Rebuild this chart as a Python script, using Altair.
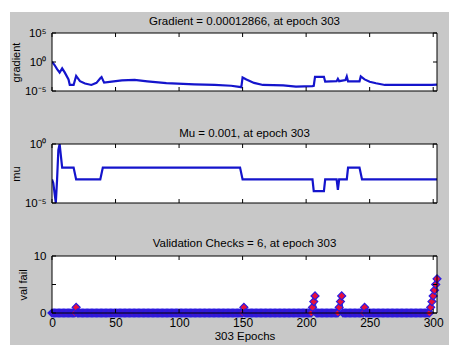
import altair as alt
import pandas as pd

# ---------------- data ----------------
grad_epochs = [0, 2, 4, 6, 8, 10, 13, 14, 17, 19, 22, 26, 31, 35, 38, 39, 41, 47, 55, 65,
               75, 90, 112, 128, 141, 149, 150, 153, 159, 166, 182, 192, 205, 206, 207,
               214, 215, 224, 225, 226, 231, 232, 233, 242, 243, 246, 250, 255, 262, 299, 303]
grad_values = [1.1, 0.3, 0.06, 0.015, 0.08, 0.016, 1e-3, 1.1e-4, 1.1e-4, 4e-3, 5e-4, 2e-4,
               1.1e-4, 2.5e-4, 1.6e-3, 2.5e-3, 2.8e-4, 4e-4, 7e-4, 8e-4, 4.5e-4, 2.2e-4,
               1.4e-4, 1.1e-4, 8e-5, 4.5e-5, 2.2e-3, 1e-3, 2.5e-4, 1.1e-4, 9e-5, 5.6e-5,
               7e-5, 8e-5, 2.8e-3, 2.8e-3, 4e-4, 5e-4, 1.3e-3, 5e-4, 8e-4, 3.2e-3, 4.5e-4,
               4.5e-4, 3.2e-3, 1e-3, 4e-4, 2.2e-4, 1.1e-4, 1.1e-4, 1.2866e-4]

mu_epochs = [0, 1, 3, 4, 5, 6, 7, 8, 17, 19, 38, 40, 148, 150, 205, 206, 214, 215, 224,
             225, 226, 232, 233, 242, 244, 303]
mu_values = [1e-3, 5e-4, 1e-5, 1e-3, 0.3, 1.0, 0.1, 0.01, 0.01, 1e-3, 1e-3, 0.01, 0.01,
             1e-3, 1e-3, 1e-4, 1e-4, 1e-3, 1e-3, 1.3e-4, 1e-3, 1e-3, 0.01, 0.01, 1e-3, 1e-3]

n_epochs = 303
val_fail_nonzero = {19: 1, 151: 1, 205: 1, 206: 2, 207: 3, 226: 1, 227: 2, 228: 3,
                    246: 1, 298: 1, 299: 2, 300: 3, 301: 4, 302: 5, 303: 6}

x_tick_values = [0, 50, 100, 150, 200, 250, 300]
grad_ticks = [1e-5, 1, 1e5]
mu_ticks = [1e-5, 1]
vf_ticks = [0, 5, 10]

titles = ["Gradient = 0.00012866, at epoch 303",
          "Mu = 0.001, at epoch 303",
          "Validation Checks = 6, at epoch 303"]

# ---------------- tables ----------------
grad_df = pd.DataFrame({"epoch": grad_epochs, "v": grad_values})
mu_df = pd.DataFrame({"epoch": mu_epochs, "v": mu_values})
vf_epochs = list(range(n_epochs + 1))
vf_df = pd.DataFrame({"epoch": vf_epochs,
                      "v": [val_fail_nonzero.get(e, 0) for e in vf_epochs]})
xt_df = pd.DataFrame({"epoch": x_tick_values})
one = pd.DataFrame({"a": [0]})

W = 385
H1, H2, H3 = 58, 59, 57
FONT = "Liberation Sans"
BLUE = "#1414cc"
GRAY = "#c8c8c8"

xscale = alt.Scale(domain=[0, n_epochs], nice=False, zero=False)


def frame_layers(yfield_ticks_df, yscale, H, xaxis):
    top = alt.Chart(xt_df).mark_rule(color="black", strokeWidth=1).encode(
        x=alt.X("epoch:Q", scale=xscale, axis=xaxis), y=alt.value(0), y2=alt.value(4))
    bot = alt.Chart(xt_df).mark_rule(color="black", strokeWidth=1).encode(
        x=alt.X("epoch:Q", scale=xscale), y=alt.value(H), y2=alt.value(H - 4))
    left = alt.Chart(yfield_ticks_df).mark_rule(color="black", strokeWidth=1).encode(
        y=alt.Y("v:Q", scale=yscale), x=alt.value(0), x2=alt.value(4))
    right = alt.Chart(yfield_ticks_df).mark_rule(color="black", strokeWidth=1).encode(
        y=alt.Y("v:Q", scale=yscale), x=alt.value(W), x2=alt.value(W - 4))
    box = alt.Chart(one).mark_rect(fillOpacity=0, stroke="black", strokeWidth=1).encode(
        x=alt.value(0), x2=alt.value(W), y=alt.value(0), y2=alt.value(H))
    return [top, bot, left, right, box]


def white_plot(H):
    return alt.Chart(one).mark_rect(color="white").encode(
        x=alt.value(0), x2=alt.value(W), y=alt.value(0), y2=alt.value(H))


def title_text(text, dy):
    return alt.Chart(one).mark_text(font=FONT, fontSize=11.5, color="black",
                                    baseline="alphabetic", align="center").encode(
        x=alt.value(W / 2), y=alt.value(-dy), text=alt.value(text))


def yaxis(title, values, expr=None, padding=6, tpad=3):
    kw = dict(values=values, ticks=False, domain=False, grid=False, title=title,
              labelFont=FONT, labelFontSize=11.5, labelColor="black", titleFont=FONT,
              titleFontSize=11, titleFontWeight="normal", titleColor="black",
              labelPadding=padding, titlePadding=tpad, zindex=1)
    if expr:
        kw["labelExpr"] = expr
    return alt.Axis(**kw)


sup_expr = "datum.value >= 1e5 ? '10\u2075' : (datum.value >= 1 ? '10\u2070' : '10\u207b\u2075')"

# ---------------- panel 1: gradient ----------------
gscale = alt.Scale(type="log", domain=[1e-5, 1e5], nice=False)
backdrop_white = alt.Chart(one).mark_rect(color="white").encode(
    x=alt.value(-52), x2=alt.value(449 - 52), y=alt.value(-33), y2=alt.value(345 - 33))
backdrop_gray = alt.Chart(one).mark_rect(color=GRAY).encode(
    x=alt.value(-42), x2=alt.value(449 - 52), y=alt.value(-21), y2=alt.value(345 - 33))
g_line = alt.Chart(grad_df).mark_line(color=BLUE, strokeWidth=2.2, clip=True).encode(
    x=alt.X("epoch:Q", scale=xscale, axis=None),
    y=alt.Y("v:Q", scale=gscale, axis=yaxis("gradient", grad_ticks, sup_expr)))
p1 = alt.layer(backdrop_white, backdrop_gray, white_plot(H1), g_line,
               *frame_layers(pd.DataFrame({"v": grad_ticks}), gscale, H1, None),
               title_text(titles[0], 8)
               ).properties(width=W, height=H1)

# ---------------- panel 2: mu ----------------
mscale = alt.Scale(type="log", domain=[1e-5, 1], nice=False)
m_line = alt.Chart(mu_df).mark_line(color=BLUE, strokeWidth=2.2, clip=True).encode(
    x=alt.X("epoch:Q", scale=xscale, axis=None),
    y=alt.Y("v:Q", scale=mscale, axis=yaxis("mu", mu_ticks, sup_expr)))
p2 = alt.layer(white_plot(H2), m_line,
               *frame_layers(pd.DataFrame({"v": mu_ticks}), mscale, H2, None),
               title_text(titles[1], 7.5)
               ).properties(width=W, height=H2)

# ---------------- panel 3: validation checks ----------------
vscale = alt.Scale(domain=[0, 10], nice=False)
xaxis3 = alt.Axis(values=x_tick_values, ticks=False, domain=False, grid=False,
                  title="303 Epochs", labelFont=FONT, labelFontSize=12,
                  labelColor="black", titleFont=FONT, titleFontSize=11.5,
                  titleFontWeight="normal", titleColor="black", labelPadding=4,
                  titlePadding=2, zindex=1, labelFlush=False)
v_line = alt.Chart(vf_df).mark_line(color=BLUE, strokeWidth=1).encode(
    x=alt.X("epoch:Q", scale=xscale, axis=xaxis3),
    y=alt.Y("v:Q", scale=vscale,
            axis=yaxis("val fail", vf_ticks, None, padding=6, tpad=5)))
v_pts = alt.Chart(vf_df).mark_point(shape="diamond", filled=True, fill="#e8103c",
                                    stroke="#2a1ae0", strokeWidth=1.2, size=64,
                                    opacity=1).encode(
    x=alt.X("epoch:Q", scale=xscale), y=alt.Y("v:Q", scale=vscale))
p3 = alt.layer(white_plot(H3), v_line, v_pts,
               *frame_layers(pd.DataFrame({"v": vf_ticks}), vscale, H3, xaxis3),
               title_text(titles[2], 9)
               ).properties(width=W, height=H3)

chart = alt.vconcat(p1, p2, p3, spacing=53, bounds="flush").properties(
    padding=0, background="white"
).configure_view(strokeWidth=0).resolve_scale(x="independent")

chart.save("out.html", embed_options={"renderer": "svg", "actions": False})
